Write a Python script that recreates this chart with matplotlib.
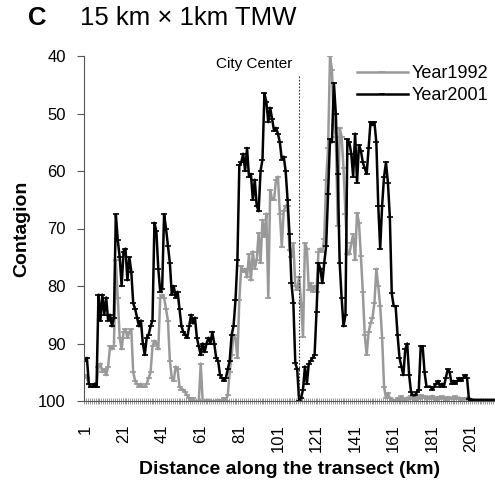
import matplotlib
matplotlib.use("Agg")
import matplotlib.pyplot as plt
import numpy as np

plt.rcParams['font.family'] = ['Liberation Sans', 'DejaVu Sans']

# distance along the transect, 1 km steps
km = list(range(1, 214))

year1992 = [
    95.5, 96, 97, 97.5, 97.5, 97, 97.5, 94, 93.5, 95,
    94.5, 95.5, 94, 90.5, 91, 90.5, 75.5, 82, 89, 91,
    88, 87.5, 89, 88, 87.5, 95, 96.5, 97, 97.5, 97,
    97.5, 97.5, 97, 96, 95, 90.5, 89.5, 90, 91, 82,
    81.5, 82, 84, 86, 93, 96, 96.5, 94, 94.5, 97.5,
    98, 98, 98.5, 99, 99.5, 100, 99.5, 100, 100, 100,
    93.5, 100, 100, 100, 99.8, 100, 100, 100, 100, 99.8,
    100, 100, 99.5, 100, 99, 95, 92, 88.5, 89, 92.5,
    82.4, 76.6, 77.5, 77, 78.5, 74.5, 79, 74, 77, 75.5,
    70.8, 76, 68.5, 71.4, 67.4, 82, 63.3, 65, 65, 61.6,
    61, 67.4, 73.2, 67, 66, 66, 73.7, 75, 72.6, 80,
    80.7, 78.4, 83, 88.8, 72.6, 73.5, 80.7, 79.5, 81, 80,
    81, 74, 73.5, 74, 71.8, 61.5, 56, 40, 42.5, 52,
    54, 69.5, 52.5, 54, 59.5, 67.5, 74.5, 74.5, 72.6, 71,
    75.5, 67.3, 69, 74.8, 81, 88.5, 92, 88, 86.5, 85.5,
    83, 77, 80, 83.5, 89, 97.5, 99.5, 98.6, 99.5, 99.8,
    99.8, 100, 99.5, 99.8, 99.2, 99.6, 100, 99.4, 99.7, 99.2,
    99.5, 99.8, 99.3, 99.6, 99, 99.5, 99.2, 99.7, 99.3, 99.6,
    99.1, 99.5, 99.8, 99.3, 99.6, 99.2, 99.5, 99.8, 99.3, 99.6,
    99.4, 99.7, 99.2, 99.6, 99.4, 99.8, 99.5, 99.7, 99.4, 99.8,
    99.6, 100, 100, 100, 100, 100, 100, 100, 100, 100,
    100, 100, 100,
]

year2001 = [
    93, 92.5, 97, 97.5, 97.5, 97, 97.5, 81.5, 86, 81.5,
    85, 82, 86, 85, 87, 85.5, 67.5, 72, 75, 80,
    74, 73.5, 79, 75, 77.5, 83, 84, 85.5, 87, 86,
    90, 92, 89, 88.5, 87, 86, 69, 70.5, 77, 81,
    80.5, 67.5, 70, 73, 76, 81.5, 80, 82, 81, 84,
    87, 88, 88.5, 89, 87, 85, 86.5, 85.5, 89, 90.5,
    92, 90, 91.5, 90, 89, 90, 88, 90, 92.5, 93,
    95.5, 96, 96.5, 96, 94.5, 93, 88.5, 87, 82.5, 75.5,
    59, 58.5, 57, 60, 56, 61, 60.5, 65, 61.5, 66,
    67, 60, 58, 46.5, 48, 51.5, 49, 51, 53, 52.5,
    53.5, 55, 58, 57.5, 60, 65, 71, 79.5, 83, 93.4,
    94.5, 100, 99.5, 98, 94, 97, 93.5, 93, 92.5, 92,
    84.5, 76, 77, 79.5, 76, 73, 64, 54.5, 55, 44.7,
    50, 60.5, 76, 82, 87, 85, 54.5, 55, 57, 61,
    53.5, 62, 55.5, 56.5, 58.5, 59.5, 60.5, 56, 51.5, 52,
    51.5, 55, 66, 73.5, 66, 61, 58.5, 62, 68, 81.3,
    83.5, 83.5, 88.5, 92.5, 94, 95.5, 91, 90, 95.5, 98.5,
    99, 99, 98.5, 98, 90.5, 90.5, 95, 97.5, 97.5, 97.5,
    98, 97.5, 97, 96.5, 97.5, 97, 97.5, 96, 94.5, 95,
    97, 96.5, 97, 96.5, 96, 96.5, 96, 95.5, 96, 99.7,
    99.8, 99.8, 99.8, 99.8, 99.8, 99.8, 99.8, 99.8, 99.8, 99.8,
    99.8, 99.8, 99.8,
]

city_center_km = 112
xtick_labels = ['1', '21', '41', '61', '81', '101', '121', '141', '161', '181', '201']

fig = plt.figure(figsize=(4.95, 4.84), dpi=100)
ax = fig.add_axes([84 / 495, 83 / 484, 411 / 495, 345 / 484])

ax.plot(km, year1992, color='#999999', lw=1.8, marker='_', ms=4, mew=1.2, label='Year1992')
ax.plot(km, year2001, color='black', lw=1.8, marker='_', ms=4, mew=1.2, label='Year2001')

ax.vlines(city_center_km, 43.5, 100, colors='#333333', linestyles=(0, (1.5, 1.5)), lw=0.8)
ax.text(city_center_km - 3.5, 41.4, 'City Center', ha='right', va='center', fontsize=11)

ax.set_xlim(0.5, 213.5)
ax.set_ylim(100, 40)
ax.set_yticks(range(40, 101, 10))
ax.set_xticks([int(t) for t in xtick_labels])
ax.set_xticklabels(xtick_labels, rotation=90, fontsize=12)
ax.set_xticks(np.arange(0.5, 214, 1), minor=True)
ax.tick_params(axis='x', which='major', length=0, pad=17)
ax.tick_params(axis='x', which='minor', length=4, direction='inout', color='#888888', width=0.6)
ax.tick_params(axis='y', length=5, direction='out', labelsize=12, pad=8, color='#555555')

for s in ['top', 'right']:
    ax.spines[s].set_visible(False)
ax.spines['left'].set_color('#555555')
ax.spines['bottom'].set_color('#555555')

ax.set_ylabel('Contagion', fontsize=14, fontweight='bold', labelpad=6)
ax.set_xlabel('Distance along the transect (km)', fontsize=14, fontweight='bold', labelpad=6)

leg = ax.legend(loc='upper right', bbox_to_anchor=(1.0, 0.995), frameon=False, fontsize=13,
                handlelength=2.8, handletextpad=0.2, labelspacing=0.3, borderaxespad=0)

fig.text(28 / 495, 1 - 18 / 484, 'C', fontsize=18.5, fontweight='bold', va='center')
fig.text(80 / 495, 1 - 18 / 484, '15 km × 1km TMW', fontsize=18.5, va='center')

fig.savefig('out.png', dpi=100)
